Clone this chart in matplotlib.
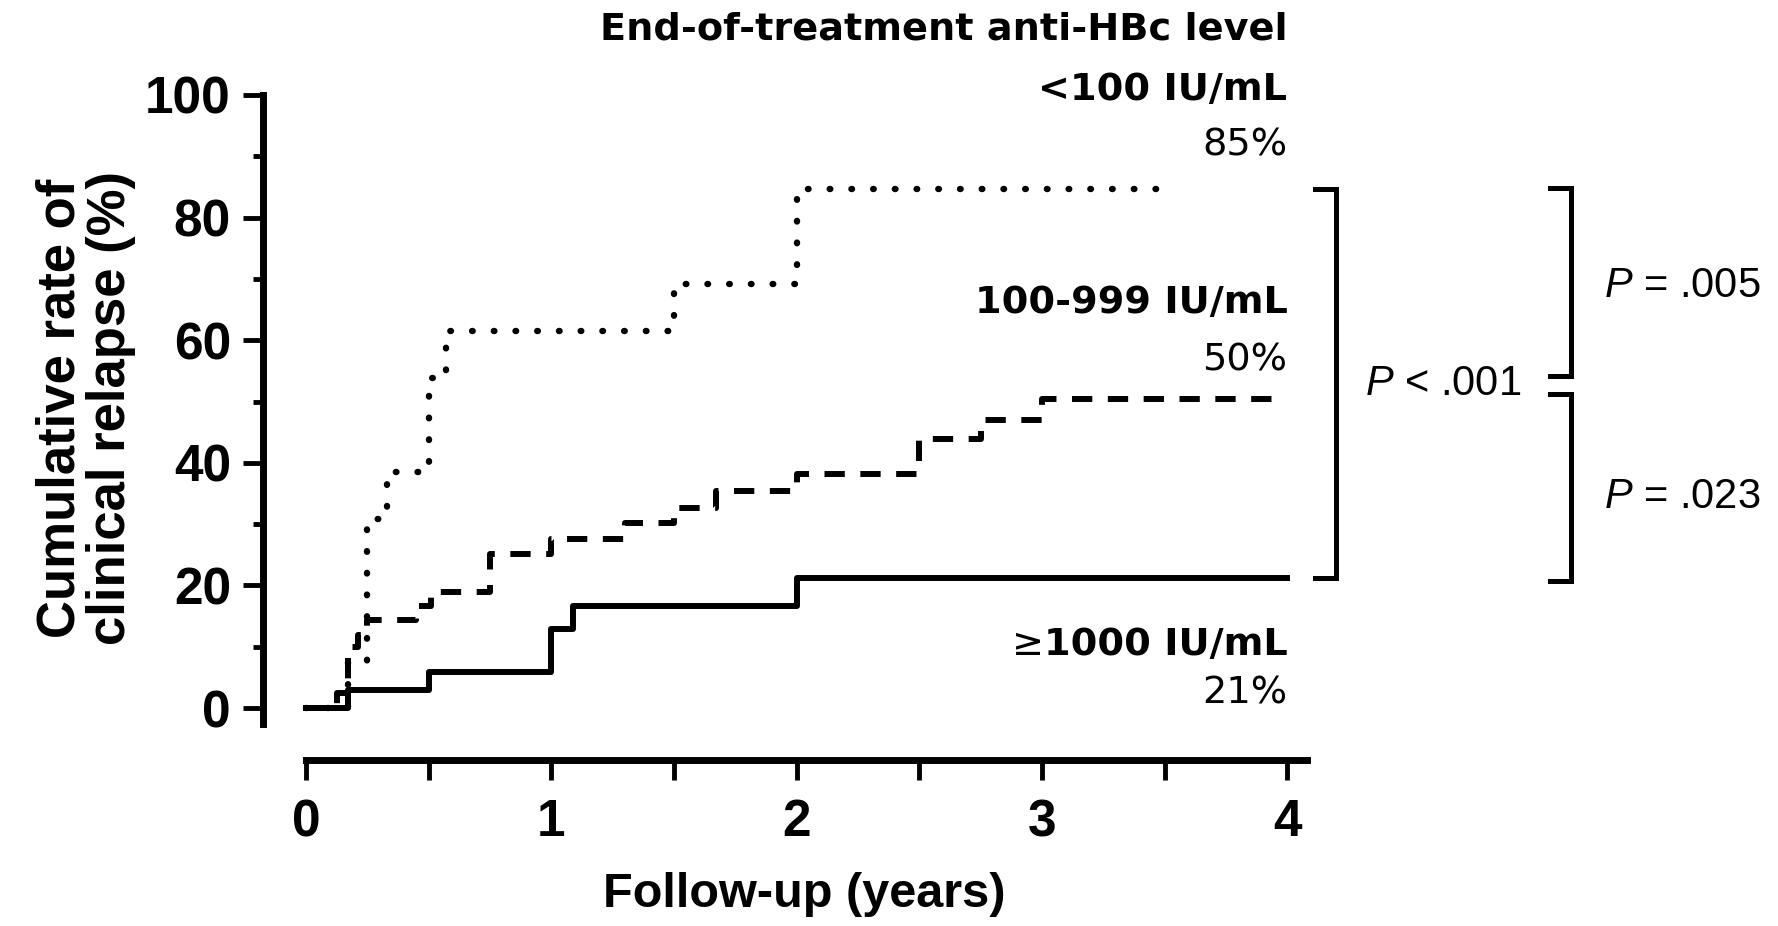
import matplotlib
matplotlib.use("Agg")
import matplotlib.pyplot as plt
from matplotlib.ticker import MultipleLocator

plt.rcParams['font.family'] = 'Liberation Sans'
plt.rcParams['mathtext.fontset'] = 'custom'
plt.rcParams['mathtext.it'] = 'Liberation Sans:italic'
plt.rcParams['mathtext.rm'] = 'Liberation Sans'

# Kaplan-Meier style cumulative relapse curves (years, %)
low_t = [0, 0.17, 0.25, 0.33, 0.50, 0.57, 1.50, 2.00, 3.50]
low_y = [0, 7.7, 30.8, 38.5, 53.8, 61.5, 69.2, 84.6, 84.6]

mid_t = [0, 0.125, 0.17, 0.21, 0.25, 0.45, 0.51, 0.75, 1.00, 1.30, 1.50,
         1.67, 2.00, 2.50, 2.75, 3.00, 4.00]
mid_y = [0, 2.4, 10.0, 11.9, 14.3, 16.7, 18.9, 25.2, 27.6, 30.1, 32.7,
         35.4, 38.1, 43.9, 47.0, 50.4, 50.4]

high_t = [0, 0.17, 0.50, 1.00, 1.09, 2.00, 4.00]
high_y = [0, 2.9, 5.8, 12.9, 16.7, 21.2, 21.2]

group_names = ['<100 IU/mL', '100-999 IU/mL', '1000 IU/mL']
p_texts = ['$P$ < .001', '$P$ = .005', '$P$ = .023']

fig = plt.figure(figsize=(17.78, 9.26), dpi=100)
ax = fig.add_axes([0.1482, 0.17927, 0.5897, 0.71814])
ax.set_xlim(-0.1732, 4.1)
ax.set_ylim(-8.48, 100)

lw = 4.3
ax.step(high_t, high_y, where='post', color='black', lw=lw, clip_on=False)
ax.step(mid_t, mid_y, where='post', color='black', lw=lw,
        linestyle=(0, (3.4, 2.6)), clip_on=False)
ax.step(low_t, low_y, where='post', color='black', lw=4.6,
        linestyle=(0, (0.1, 3.3)), dash_capstyle='round', clip_on=False)

# prism-like offset axes
for side in ['top', 'right']:
    ax.spines[side].set_visible(False)
ax.spines['left'].set_linewidth(5)
ax.spines['bottom'].set_linewidth(5)
ax.spines['left'].set_bounds(-2.6, 100)
ax.spines['bottom'].set_bounds(0, 4.078)

ax.set_xticks([0, 1, 2, 3, 4])
ax.xaxis.set_minor_locator(MultipleLocator(0.5))
ax.set_yticks([0, 20, 40, 60, 80, 100])
ax.yaxis.set_minor_locator(MultipleLocator(10))
ax.tick_params(axis='x', which='major', length=14.4, width=3.5, pad=13,
               labelsize=37)
ax.tick_params(axis='x', which='minor', length=14.4, width=3.5)
ax.tick_params(axis='y', which='major', length=14.4, width=3.5, pad=9,
               labelsize=37)
ax.tick_params(axis='y', which='minor', length=7.5, width=3.5)
for lab in ax.get_xticklabels() + ax.get_yticklabels():
    lab.set_fontweight('bold')

fig.text(804 / 1778, (926 - 906.7) / 926, 'Follow-up (years)', ha='center',
         va='baseline', fontsize=35, fontweight='bold')
fig.text(86 / 1778, 0.559, 'Cumulative rate of\nclinical relapse (%)',
         rotation=90, ha='center', va='center', fontsize=38,
         fontweight='bold', linespacing=1.0, multialignment='center')

# group labels at the right end of the curves
lab_font = dict(family='DejaVu Sans', fontsize=27.5, ha='right',
                va='baseline', clip_on=False)
ax.text(4.0, 109.1, 'End-of-treatment anti-HBc level', fontweight='bold',
        **lab_font)
label_rows = [(99.2, 90.2, low_y[-1]), (64.5, 55.0, mid_y[-1]),
              (8.65, 0.8, high_y[-1])]
name_texts = []
for name, (yn, yp, final) in zip(group_names, label_rows):
    name_texts.append(ax.text(4.0, yn, name, fontweight='bold', **lab_font))
    ax.text(4.0, yp, f'{final:.0f}%', **lab_font)

# the "greater or equal" sign is set in regular weight
ax.annotate('\u2265', xy=(0, 0), xycoords=name_texts[2], ha='right',
            va='bottom', family='DejaVu Sans', fontsize=27.5)

# comparison brackets
def bracket(xv, xt, y0, y1):
    ax.plot([xt, xv, xv, xt], [y1, y1, y0, y0], color='black', lw=3.6,
            solid_joinstyle='miter', clip_on=False)

bracket(4.197, 4.112, high_y[-1], low_y[-1])
bracket(5.155, 5.069, 54.2, 84.9)
bracket(5.155, 5.069, 20.8, 51.2)

p_font = dict(fontsize=30, ha='left', va='baseline', clip_on=False)
ax.text(4.315, 51.1, p_texts[0], **p_font)
ax.text(5.290, 67.1, p_texts[1], **p_font)
ax.text(5.290, 32.6, p_texts[2], **p_font)

fig.savefig('out.png', dpi=100)
